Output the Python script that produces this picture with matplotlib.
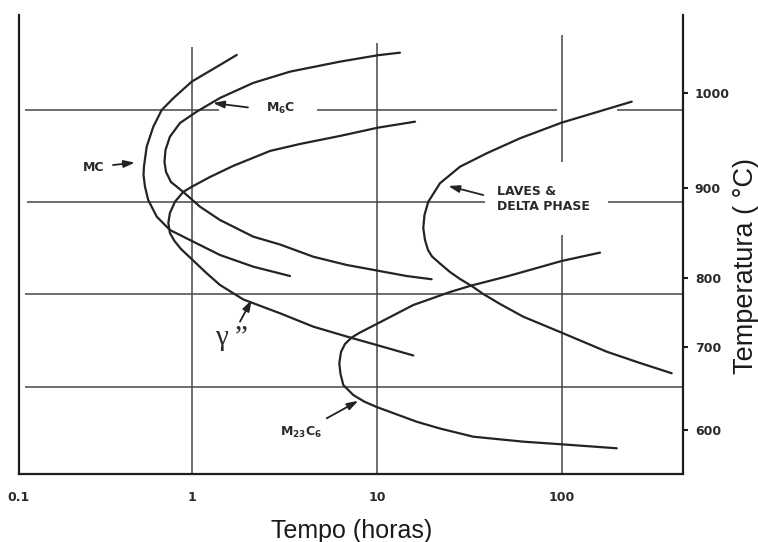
import numpy as np
import matplotlib
matplotlib.use("Agg")
import matplotlib.pyplot as plt
from matplotlib.ticker import NullLocator, FixedLocator

# ---------------- data (time in hours, temperature in deg C) ----------------
mc_time = [1.745, 1.417, 0.996, 0.792, 0.686, 0.618, 0.569, 0.550, 0.547, 0.557,
           0.580, 0.645, 0.760, 1.016, 1.417, 2.145, 3.387]
mc_temp = [1040.6, 1030.0, 1012.3, 994.7, 982.3, 964.6, 943.4, 922.2, 913.5, 901.1,
           886.4, 868.0, 853.3, 840.4, 825.7, 812.8, 802.5]

m6c_time = [13.31, 10.13, 6.31, 3.387, 2.137, 1.417, 1.060, 0.861, 0.760, 0.719, 0.710,
            0.724, 0.770, 0.897, 1.105, 1.417, 2.145, 2.990, 4.525, 6.859, 10.09,
            14.47, 19.75]
m6c_temp = [1043.0, 1040.3, 1033.5, 1022.9, 1010.9, 995.0, 980.5, 968.5, 954.0, 939.9,
            927.2, 916.6, 906.0, 895.3, 879.0, 864.3, 845.9, 837.3, 823.8, 814.7,
            808.4, 802.5, 798.6]

g2_time = [16.05, 10.13, 6.31, 3.836, 2.641, 1.666, 1.251, 1.0, 0.897, 0.809, 0.760,
           0.745, 0.760, 0.804, 0.872, 0.975, 1.201, 1.417, 1.894, 2.990, 4.525,
           7.146, 9.963, 15.72]
g2_temp = [969.9, 963.6, 954.8, 946.3, 938.9, 923.0, 911.3, 901.1, 895.3, 884.5, 872.1,
           861.0, 850.0, 841.2, 832.3, 823.0, 805.5, 790.3, 769.3, 749.3, 729.9,
           714.2, 703.3, 690.1]

laves_time = [238.2, 99.6, 59.29, 39.17, 28.10, 21.90, 18.94, 18.06, 17.79, 18.17,
              18.87, 19.83, 21.90, 24.81, 28.10, 32.50, 37.55, 46.23, 61.77, 99.6,
              174.4, 264.0, 391.7]
laves_temp = [991.1, 968.9, 952.3, 936.4, 922.2, 904.7, 884.5, 869.9, 855.5, 842.3,
              831.2, 824.1, 816.3, 806.9, 799.0, 788.8, 777.2, 762.8, 744.3, 721.2,
              694.7, 681.0, 668.6]

m23_time = [160.5, 99.6, 67.14, 50.24, 32.50, 24.81, 15.72, 9.963, 8.092, 7.298, 6.714,
            6.389, 6.255, 6.350, 6.576, 7.446, 8.506, 9.963, 16.39, 21.90, 33.16,
            61.77, 99.6, 197.6]
m23_temp = [828.3, 819.1, 809.2, 802.0, 789.6, 780.1, 761.3, 733.8, 721.4, 714.2, 704.8,
            694.3, 680.7, 667.7, 654.4, 642.3, 634.5, 627.8, 610.0, 601.8, 591.9,
            585.9, 582.7, 577.9]

# reference lines of the original chart
hline_temps = [982.8, 884.5, 777.0, 651.4]
hline_spans = [[(0.125, 1.40), (4.74, 94.0), (198.0, None)],
               [(0.128, 38.4), (177.3, None)],
               [(0.125, None)],
               [(0.125, None)]]
vline_times = [1, 10, 100]
vline_spans = [[(None, 1049.0)], [(None, 1053.3)], [(926.7, 1061.8), (None, 847.8)]]

xtick_labels = ["0.1", "1", "10", "100"]
ytick_values = [600, 700, 800, 900, 1000]

# annotations: (text, text position, arrow tail, arrow head)
labels = [
    ("MC", (0.2953, 920.9), (0.374, 924.0), (0.4918, 926.5)),
    ("M$_6$C", (3.027, 984.4), (2.007, 985.0), (1.299, 989.7)),
    ("M$_{23}$C$_6$", (3.884, 597.6), (5.346, 614.1), (7.924, 635.3)),
]
laves_label = ("LAVES &", "DELTA PHASE")
laves_pos = (44.53, 887.5)
laves_arrow = ((37.55, 891.9), (24.29, 901.8))
gamma_label = "\u03b3 \u201d"
gamma_pos = (1.645, 713.5)
gamma_arrow = ((1.817, 737.1), (2.102, 768.6))

# ---------------- scale (the scanned axis is not evenly spaced) ----------------
_TA = np.array([600.0, 700.0, 800.0, 900.0, 1000.0])
_PA = np.array([0.0, 82.7, 151.7, 242.3, 336.7])


def _fwd(T):
    T = np.asarray(T, dtype=float)
    p = np.interp(T, _TA, _PA)
    p = np.where(T < _TA[0], (T - _TA[0]) * 0.827, p)
    p = np.where(T > _TA[-1], _PA[-1] + (T - _TA[-1]) * 0.944, p)
    return p


def _inv(p):
    p = np.asarray(p, dtype=float)
    T = np.interp(p, _PA, _TA)
    T = np.where(p < _PA[0], _TA[0] + p / 0.827, T)
    T = np.where(p > _PA[-1], _TA[-1] + (p - _PA[-1]) / 0.944, T)
    return T


plt.rcParams["mathtext.fontset"] = "dejavusans"
plt.rcParams["mathtext.default"] = "bf"

W, H = 758, 542
fig = plt.figure(figsize=(W / 100, H / 100), dpi=100)
ax = fig.add_axes([19 / W, (H - 474) / H, (683 - 19) / W, (474 - 15) / H])

ax.set_xscale("log")
ax.set_yscale("function", functions=(_fwd, _inv))
x_lo, x_hi = 0.11613, 450.9
y_lo, y_hi = 546.8, 1082.9
ax.set_xlim(x_lo, x_hi)
ax.set_ylim(y_lo, y_hi)

line_col = "#242424"
grid_col = "#474747"

# reference grid lines
for T, spans in zip(hline_temps, hline_spans):
    for a, b in spans:
        ax.plot([a, x_hi if b is None else b], [T, T], color=grid_col, lw=1.1,
                solid_capstyle="butt", zorder=1)
for t, spans in zip(vline_times, vline_spans):
    for a, b in spans:
        ax.plot([t, t], [y_lo if a is None else a, b], color=grid_col, lw=1.1,
                solid_capstyle="butt", zorder=1)

# curves
for tt, TT in [(mc_time, mc_temp), (m6c_time, m6c_temp), (g2_time, g2_temp),
               (laves_time, laves_temp), (m23_time, m23_temp)]:
    ax.plot(tt, TT, color=line_col, lw=1.6, solid_capstyle="round",
            solid_joinstyle="round", zorder=3)

arrow_kw = dict(arrowstyle="-|>,head_length=0.55,head_width=0.18", color="#222222",
                lw=1.3, shrinkA=0, shrinkB=0, mutation_scale=12)
txt_kw = dict(fontsize=9, fontweight="bold", color="#2a2a2a", family="DejaVu Sans")

for text, pos, tail, head in labels:
    ax.text(pos[0], pos[1], text, ha="center", va="center", zorder=4, **txt_kw)
    ax.annotate("", xy=head, xytext=tail, arrowprops=arrow_kw, zorder=4)

ax.text(laves_pos[0], laves_pos[1], laves_label[0] + "\n" + laves_label[1],
        ha="left", va="center", linespacing=1.25, zorder=4, **txt_kw)
ax.annotate("", xy=laves_arrow[1], xytext=laves_arrow[0], arrowprops=arrow_kw, zorder=4)

ax.text(gamma_pos[0], gamma_pos[1], gamma_label, ha="center", va="center",
        fontsize=21, family="Liberation Serif", color="#2a2a2a", zorder=4)
ax.annotate("", xy=gamma_arrow[1], xytext=gamma_arrow[0], arrowprops=arrow_kw, zorder=4)

# spines
ax.spines["top"].set_visible(False)
for s in ["left", "right", "bottom"]:
    ax.spines[s].set_linewidth(1.6)
    ax.spines[s].set_color("#1e1e1e")

# ticks
ax.xaxis.set_minor_locator(NullLocator())
ax.yaxis.set_minor_locator(NullLocator())
ax.set_xticks([x_lo, 1, 10, 100])
ax.set_xticklabels(xtick_labels)
ax.tick_params(axis="x", length=0, pad=12, labelsize=9, labelcolor="#2a2a2a")
for lab in ax.get_xticklabels():
    lab.set_fontweight("bold")

ax.yaxis.set_major_locator(FixedLocator(ytick_values))
ax.set_yticklabels([str(v) for v in ytick_values])
ax.yaxis.tick_right()
ax.tick_params(axis="y", which="both", left=False, right=True, labelleft=False,
               labelright=True, length=3.5, width=1.5, pad=5, labelsize=9,
               labelcolor="#2a2a2a", color="#1e1e1e", direction="out")
for lab in ax.get_yticklabels():
    lab.set_fontweight("bold")

fig.text(352 / W, 1 - 538 / H, "Tempo (horas)", ha="center", va="baseline",
         fontsize=18, family="Liberation Sans", color="#1a1a1a")
fig.text(746 / W, 1 - 266 / H, "Temperatura ( \u00b0C)", ha="center", va="center",
         rotation=90, fontsize=19.5, family="Liberation Sans", color="#1a1a1a")

fig.savefig("out.png", dpi=100, facecolor="white")
